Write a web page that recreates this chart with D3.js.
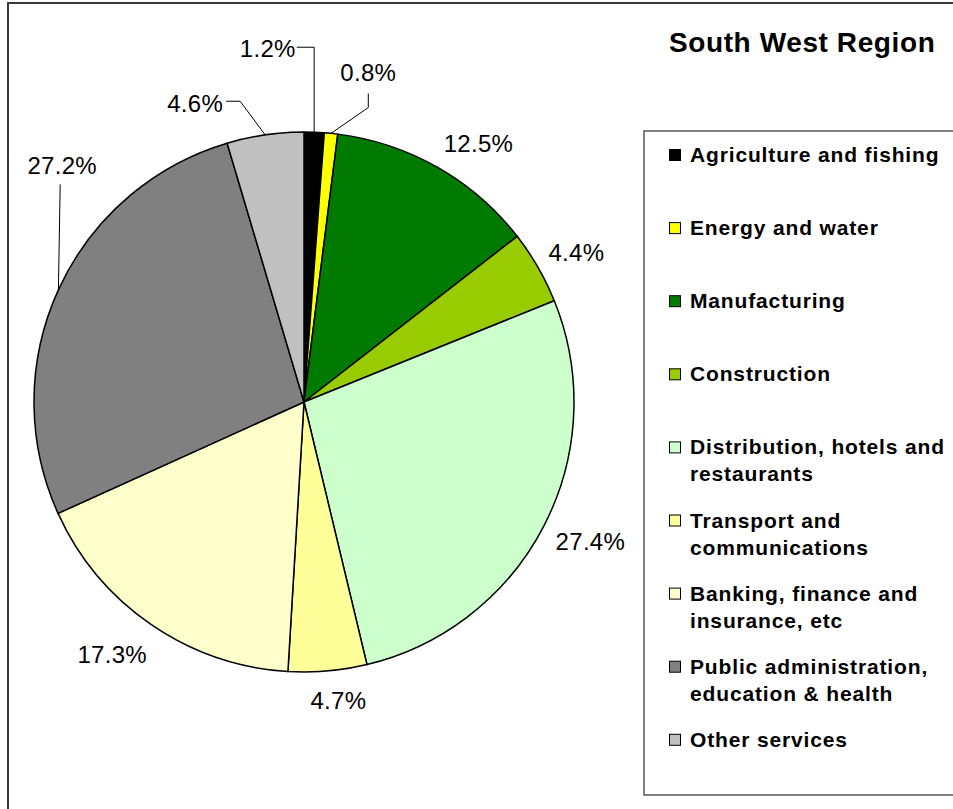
<!DOCTYPE html>
<html>
<head>
<meta charset="utf-8">
<script src="https://cdn.jsdelivr.net/npm/d3@7"></script>
<style>
  html, body { margin: 0; padding: 0; background: #fff; }
  svg { display: block; }
</style>
</head>
<body>
<svg id="chart" width="953" height="809"></svg>
<script>
// Employment share by sector, South West Region
const title = "South West Region";
const sectors = [
  "Agriculture and fishing",
  "Energy and water",
  "Manufacturing",
  "Construction",
  "Distribution, hotels and restaurants",
  "Transport and communications",
  "Banking, finance and insurance, etc",
  "Public administration, education & health",
  "Other services"
];
// legend text split over lines
const legendLines = [
  ["Agriculture and fishing"],
  ["Energy and water"],
  ["Manufacturing"],
  ["Construction"],
  ["Distribution, hotels and", "restaurants"],
  ["Transport and", "communications"],
  ["Banking, finance and", "insurance, etc"],
  ["Public administration,", "education & health"],
  ["Other services"]
];
const shares = [1.2, 0.8, 12.5, 4.4, 27.4, 4.7, 17.3, 27.2, 4.6];
const colors = ["#000000", "#FFFF00", "#007A00", "#99CC00", "#CCFFCC",
                "#FFFF99", "#FFFFCC", "#808080", "#C0C0C0"];

// label placement: nudge from the point 312px out along each slice's mid-angle
const labelNudge = [[-48, -42], [33, -19], [20, 12], [2, 6], [9, -3],
                    [7, -12], [-15, -5], [42, -107], [-64, 10]];
// leader lines: points relative to the label centre; the last point is the slice edge
const leaderPts = [
  [[29, -1], "edgeX"],
  [[0, 21], [0, 35]],
  null, null, null, null, null,
  [[-2, 19]],
  [[31, -2], [45, -2]]
];

const svg = d3.select("#chart");
const cx = 304, cy = 402, R = 270;

// outer chart frame (runs off the right and bottom)
svg.append("rect")
  .attr("x", 8).attr("y", 3).attr("width", 1000).attr("height", 900)
  .attr("fill", "none").attr("stroke", "#3a3a3a").attr("stroke-width", 2);

const pie = d3.pie().value(d => d).sort(null);
const arcs = pie(shares);
const arc = d3.arc().innerRadius(0).outerRadius(R);
const labelArc = d3.arc().innerRadius(312).outerRadius(312);
const edgeArc = d3.arc().innerRadius(R).outerRadius(R);

const g = svg.append("g").attr("transform", `translate(${cx},${cy})`);
g.selectAll("path.slice")
  .data(arcs)
  .join("path")
  .attr("class", "slice")
  .attr("d", arc)
  .attr("fill", (d, i) => colors[i])
  .attr("stroke", "#000")
  .attr("stroke-width", 1.5)
  .attr("stroke-linejoin", "round");

// percentage labels and leader lines
arcs.forEach((d, i) => {
  const [bx, by] = labelArc.centroid(d);
  const lx = bx + labelNudge[i][0], ly = by + labelNudge[i][1];
  const pts = leaderPts[i];
  if (pts) {
    const [ex, ey] = edgeArc.centroid(d);
    const line = [];
    pts.forEach(p => {
      if (p === "edgeX") line.push([ex, line[line.length - 1][1]]);
      else line.push([lx + p[0], ly + p[1]]);
    });
    line.push([ex, ey]);
    g.append("path")
      .attr("d", d3.line()(line))
      .attr("fill", "none").attr("stroke", "#000").attr("stroke-width", 1);
  }
  g.append("text")
    .attr("x", lx).attr("y", ly).attr("dy", "0.36em")
    .attr("text-anchor", "middle")
    .attr("font-family", "'Liberation Sans', Arial, sans-serif")
    .attr("font-size", 24)
    .attr("letter-spacing", 0.3)
    .attr("fill", "#000")
    .text(shares[i].toFixed(1) + "%");
});

// title
svg.append("text")
  .attr("x", 669).attr("y", 52)
  .attr("font-family", "'Liberation Sans', Arial, sans-serif")
  .attr("font-weight", "bold").attr("font-size", 28)
  .attr("letter-spacing", 0.6)
  .text(title);

// legend
const lg = svg.append("g");
lg.append("rect")
  .attr("x", 644).attr("y", 131).attr("width", 400).attr("height", 664)
  .attr("fill", "#fff").attr("stroke", "#555").attr("stroke-width", 1.5);

const y0 = 162, step = 73.1, lineGap = 27;
const items = lg.selectAll("g.item")
  .data(sectors)
  .join("g")
  .attr("class", "item")
  .attr("transform", (d, i) => `translate(0,${y0 + i * step})`);
items.append("rect")
  .attr("x", 669.5).attr("y", -12.5).attr("width", 11).attr("height", 11)
  .attr("fill", (d, i) => colors[i]).attr("stroke", "#000").attr("stroke-width", 1);
items.append("text")
  .attr("x", 690).attr("y", 0)
  .attr("font-family", "'Liberation Sans', Arial, sans-serif")
  .attr("font-weight", "bold").attr("font-size", 21)
  .attr("letter-spacing", 0.85)
  .selectAll("tspan")
  .data((d, i) => legendLines[i])
  .join("tspan")
  .attr("x", 690)
  .attr("dy", (d, j) => j === 0 ? 0 : lineGap)
  .text(d => d);
</script>
</body>
</html>
